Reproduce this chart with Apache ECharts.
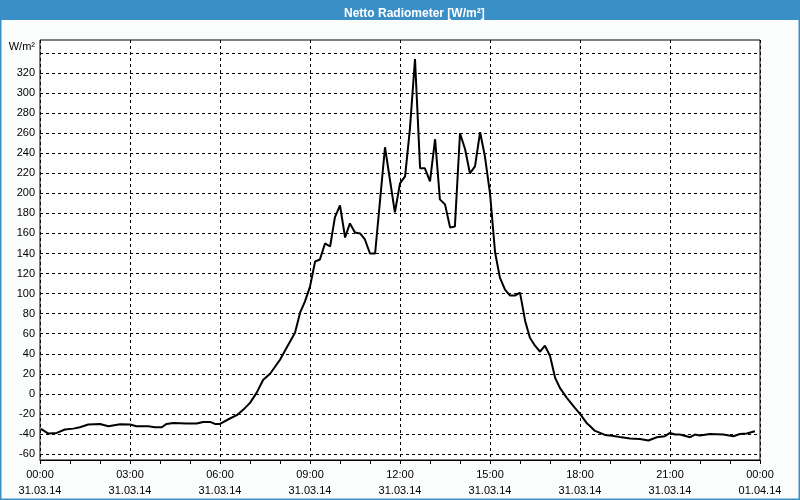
<!DOCTYPE html>
<html>
<head>
<meta charset="utf-8">
<script src="https://cdn.jsdelivr.net/npm/echarts@6/dist/echarts.min.js"></script>
<style>
html,body{margin:0;padding:0;background:#fbfdfc;}
#chart{width:800px;height:500px;}
</style>
</head>
<body>
<div id="chart"></div>
<script>
// Time of day in hours (31.03.14 00:00 = 0)
const hours = [0.03,0.28,0.56,0.83,1.11,1.33,1.61,2.0,2.28,2.67,3.0,3.22,3.61,3.83,4.06,4.22,4.44,4.89,5.22,5.44,5.67,5.83,6.0,6.33,6.56,6.78,7.0,7.22,7.44,7.67,8.0,8.22,8.5,8.67,8.83,9.0,9.17,9.33,9.5,9.67,9.83,10.0,10.17,10.33,10.5,10.67,10.83,11.0,11.17,11.5,11.83,12.0,12.17,12.33,12.5,12.67,12.83,13.0,13.17,13.33,13.5,13.67,13.83,14.0,14.17,14.33,14.5,14.67,14.83,15.0,15.17,15.33,15.5,15.67,15.83,16.0,16.17,16.33,16.5,16.67,16.83,17.0,17.17,17.33,17.56,17.83,18.0,18.22,18.33,18.5,18.67,18.83,19.0,19.33,19.67,20.0,20.28,20.56,20.83,21.0,21.17,21.33,21.67,21.83,22.0,22.33,22.78,23.11,23.33,23.56,23.83];
const radiation = [-35,-39.6,-39,-35.6,-34.7,-33.3,-30.6,-30,-32.3,-30.4,-30.6,-32.3,-32.3,-33.3,-33.3,-30,-29,-29.6,-29.6,-28,-28,-30,-30,-24.6,-21.3,-15.7,-9,1,14,20,34,46,61,81,92,107,132,134,150,147,176,188,156,170,161,160,154,140,140,246,181,210,217,264,334,225,225,212,254,194,189,166,167,260,244,220,227,261,237,200,141,116,104,98,98,101,73,56,48,42,48,38,16,6,-4,-14,-20,-29,-32,-37,-39,-41,-41.5,-43,-44.5,-45,-46.6,-43.3,-42.3,-39,-40.6,-40.6,-43.3,-40.6,-41.6,-40,-40.6,-42.3,-40,-39.6,-37.3];
const xTickLabels = {0:'00:00\n31.03.14',3:'03:00\n31.03.14',6:'06:00\n31.03.14',9:'09:00\n31.03.14',12:'12:00\n31.03.14',15:'15:00\n31.03.14',18:'18:00\n31.03.14',21:'21:00\n31.03.14',24:'00:00\n01.04.14'};
const titleText = 'Netto Radiometer [W/m²]';
const unitText = 'W/m²';

const FONT = 'Liberation Sans';
const chart = echarts.init(document.getElementById('chart'), null, {renderer:'canvas'});
chart.setOption({
  backgroundColor: '#fbfdfc',
  animation: false,
  title: {
    text: titleText, left: 339, top: 3,
    textStyle: {color:'#ffffff', fontFamily: FONT, fontSize: 12, fontWeight: 'bold'}
  },
  graphic: [
    {type:'rect', z:-10, shape:{x:0,y:0,width:800,height:20}, style:{fill:'#3b8fc7'}},
    {type:'rect', z:-10, shape:{x:0.5,y:0.5,width:799,height:499}, style:{fill:null, stroke:'#3b8fc7', lineWidth:2}}
  ],
  grid: [
    {left:40, right:40, top:40, bottom:40, show:true, borderColor:'#000', borderWidth:1, backgroundColor:'#ffffff', outerBoundsMode:'none', containLabel:false},
    {left:40, right:40, top:53, bottom:46, show:false, outerBoundsMode:'none', containLabel:false}
  ],
  xAxis: [
    {type:'value', gridIndex:0, min:0, max:24, interval:3,
     axisLine:{show:true, onZero:false, lineStyle:{color:'#000', width:1}},
     axisTick:{show:true, length:4, lineStyle:{color:'#000'}},
     minorTick:{show:true, splitNumber:3, length:4, lineStyle:{color:'#000'}},
     splitLine:{show:true, lineStyle:{color:'#000', type:[3,3], width:1}},
     axisLabel:{margin:7, color:'#000', fontFamily:FONT, fontSize:11, lineHeight:16,
       formatter:(v)=> xTickLabels[v] || ''}},
    {type:'value', gridIndex:1, min:0, max:24, show:false}
  ],
  yAxis: [
    {type:'value', gridIndex:0, min:-66, max:353, show:false, splitLine:{show:false}},
    {type:'value', gridIndex:1, min:-60, max:340, interval:20,
     name: unitText, nameLocation:'end', nameGap:6,
     nameTextStyle:{color:'#000', fontFamily:FONT, fontSize:11, align:'right', verticalAlign:'middle', padding:[0,5,0,0]},
     axisLine:{show:false}, axisTick:{show:false},
     splitLine:{show:true, lineStyle:{color:'#000', type:[3,3], width:1}},
     axisLabel:{margin:5, color:'#000', fontFamily:FONT, fontSize:11,
       formatter:(v)=> v === 340 ? '' : String(v)}}
  ],
  series: [{
    type:'line', xAxisIndex:0, yAxisIndex:0,
    data: hours.map((h,i)=>[h, radiation[i]]),
    showSymbol:false, symbol:'none', smooth:false,
    lineStyle:{color:'#000', width:2}, z:5
  }]
});
</script>
</body>
</html>
